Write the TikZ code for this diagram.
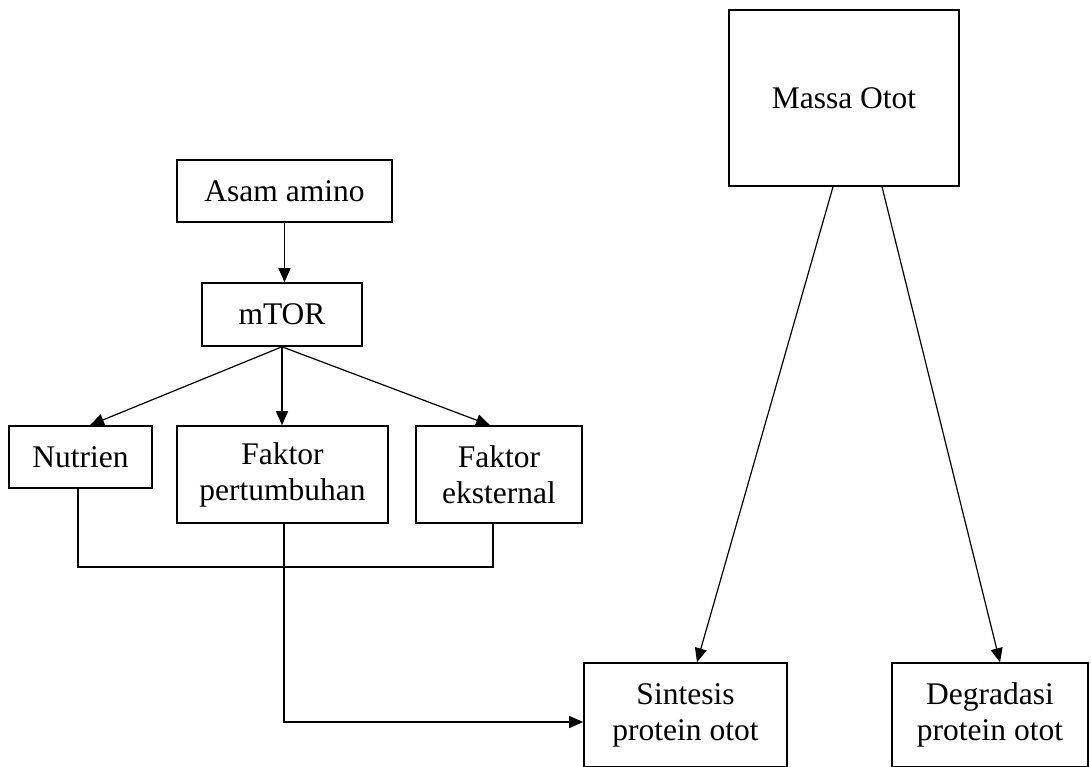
\documentclass[tikz,border=0pt]{standalone}
\usepackage{fontspec}
\setmainfont{Liberation Serif}
\usetikzlibrary{arrows.meta}

\begin{document}
\begin{tikzpicture}[x=1pt,y=-1pt,
    box/.style={draw=black,line width=1.6pt,align=center,inner sep=0pt,
      font=\fontsize{31.5}{36}\selectfont},
    link/.style={line width=1.2pt},
    arr/.style={link,-{Triangle[length=14pt,width=12pt]}}]

  % Page frame, same size as the reference (y runs downward)
  \useasboundingbox (0,0) rectangle (1091,767);
  \clip (0,0) rectangle (1091,766.3);

  % ---- Boxes ----
  \node[box,minimum width=230pt,minimum height=176pt] (massa) at (844,98) {Massa Otot};
  \node[box,minimum width=215pt,minimum height=62pt] (asam) at (284.5,191) {Asam amino};
  \node[box,minimum width=160pt,minimum height=63pt] (mtor) at (282,314.5) {mTOR};
  \node[box,minimum width=143pt,minimum height=62pt] (nutrien) at (80.5,457) {Nutrien};
  \node[box,minimum width=211pt,minimum height=97pt] (fp) at (282.5,474.5) {Faktor\\pertumbuhan};
  \node[box,minimum width=166pt,minimum height=97pt] (fe) at (499,474.5) {Faktor\\eksternal};
  % bottom row runs off the page
  \node[box,minimum width=203pt,minimum height=104pt] (sintesis) at (685.5,715) {Sintesis\\protein otot};
  \node[box,minimum width=196pt,minimum height=104pt] (degradasi) at (990,715) {Degradasi\\protein otot};

  % ---- Arrows from the top ----
  \draw[arr] (asam.south) -- (asam.south |- mtor.north);
  \draw[arr] (mtor.south) -- ([xshift=9.5pt]nutrien.north);
  \draw[arr] (mtor.south) -- (mtor.south |- fp.north);
  \draw[arr] (mtor.south) -- ([xshift=-9pt]fe.north);

  % ---- Joining line under the three factors ----
  \coordinate (bus) at (0,567);
  \coordinate (feb) at ([xshift=-6pt]fe.south);
  \draw[link] ([xshift=-2.5pt]nutrien.south) |- (feb |- bus) -- (feb);
  \draw[arr] ([xshift=1.5pt]fp.south) |- ([yshift=-7pt]sintesis.west);

  % ---- Massa Otot splits in two ----
  \draw[arr] ([xshift=-11pt]massa.south) -- ([xshift=11.5pt]sintesis.north);
  \draw[arr] ([xshift=38pt]massa.south) -- ([xshift=10pt]degradasi.north);

\end{tikzpicture}
\end{document}
